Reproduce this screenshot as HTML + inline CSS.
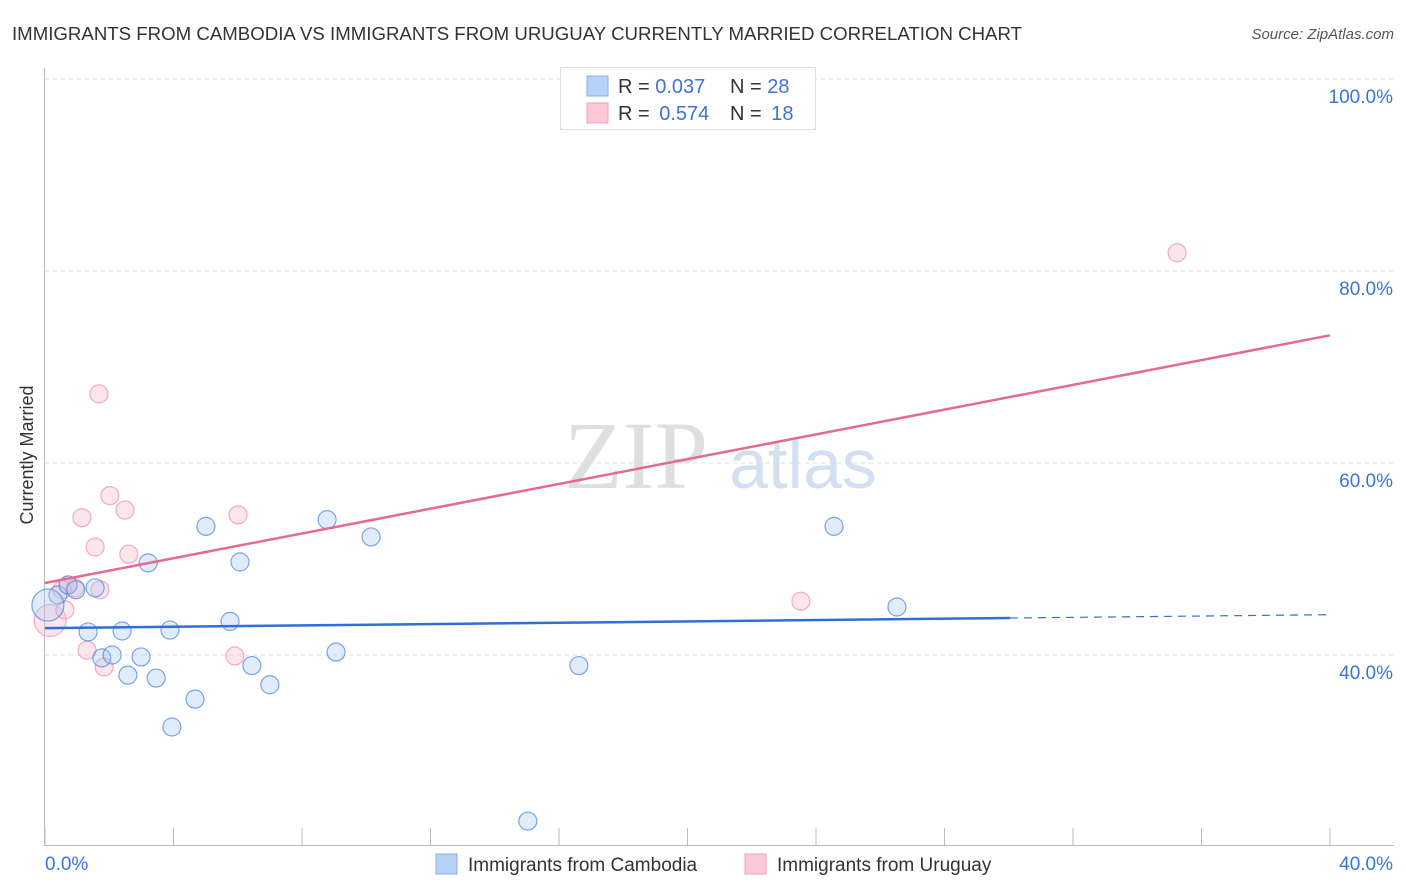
<!DOCTYPE html>
<html><head><meta charset="utf-8">
<style>
body{margin:0;background:#fff;font-family:"Liberation Sans",sans-serif;}
#wrap{position:relative;width:1406px;height:892px;overflow:hidden;}
</style></head>
<body>
<div id="wrap">
<svg id="svg" width="1406" height="892" xmlns="http://www.w3.org/2000/svg">
<text x="12" y="40" font-size="18" fill="#333" textLength="1010" lengthAdjust="spacingAndGlyphs">IMMIGRANTS FROM CAMBODIA VS IMMIGRANTS FROM URUGUAY CURRENTLY MARRIED CORRELATION CHART</text>
<text x="1394" y="39" font-size="15" fill="#555" text-anchor="end" font-style="italic">Source: ZipAtlas.com</text>
<text transform="translate(33,455) rotate(-90)" font-size="18" fill="#333" text-anchor="middle">Currently Married</text>
<g>
<text x="636" y="488" font-size="96" fill="#d8d8d8" font-family="Liberation Serif,serif" text-anchor="middle" opacity="0.8">ZIP</text>
<text x="803" y="488" font-size="70" fill="#c9d9f0" text-anchor="middle" opacity="0.8">atlas</text>
</g>
<g id="grid"></g><g id="axes"></g><g id="marks"></g>
<g>
<rect x="560.5" y="67.5" width="255" height="62" fill="#fff" stroke="#ddd"/>
<rect x="587" y="76" width="21" height="20" fill="#b8d2f7" stroke="#8ab0e8"/>
<rect x="587" y="103" width="21" height="20" fill="#fac8d6" stroke="#f0a0b8"/>
<text x="618" y="93" font-size="20" fill="#333">R = <tspan fill="#3b74d6">0.037</tspan><tspan x="730">N = </tspan><tspan fill="#3b74d6">28</tspan></text>
<text x="618" y="120" font-size="20" fill="#333">R = <tspan fill="#3b74d6" dx="4">0.574</tspan><tspan x="730">N = </tspan><tspan fill="#3b74d6" dx="4">18</tspan></text>
</g>
<g>
<rect x="436" y="854" width="21" height="20" fill="#b8d2f7" stroke="#8ab0e8"/>
<text x="468" y="871" font-size="19" fill="#333">Immigrants from Cambodia</text>
<rect x="745" y="854" width="21" height="20" fill="#fac8d6" stroke="#f0a0b8"/>
<text x="777" y="871" font-size="19" fill="#333">Immigrants from Uruguay</text>
</g>
</svg>
</div>
<script>
const blueX=[0.40,0.72,1.56,1.34,2.40,3.89,1.77,2.09,2.99,2.58,3.46,4.67,3.95,5.01,6.07,5.76,6.44,7.00,3.21,8.78,9.06,10.15,15.03,16.62,24.56,26.52,0.09,0.96];
const blueY=[46.25,47.3,47.0,42.4,42.5,42.6,39.7,40.0,39.8,37.9,37.6,35.4,32.5,53.4,49.7,43.5,38.9,36.9,49.6,54.1,40.3,52.3,22.7,38.9,53.4,45.0,45.2,46.8];
const blueR=[9,9,9,9,9,9,9,9,9,9,9,9,9,9,9,9,9,9,9,9,9,9,9,9,9,9,16,9];
const pinkX=[0.16,0.62,1.68,1.15,2.02,2.49,1.56,2.61,6.01,1.31,1.84,5.91,23.53,35.24,0.72,1.71,0.93,0.53];
const pinkY=[43.6,44.7,67.2,54.3,56.6,55.1,51.25,50.5,54.6,40.5,38.75,39.9,45.6,81.9,47.3,46.8,47.0,46.8];
const pinkR=[16,9,9,9,9,9,9,9,9,9,9,9,9,9,9,9,9,9];
const yTicks=[40,60,80,100];
const yTickLabels=["40.0%","60.0%","80.0%","100.0%"];
const blueTrend=[42.8,44.2];
const pinkTrend=[47.5,73.3];
const X=v=>45+v/40*1285;
const Y=v=>655-(v-40)*9.6;
const NS="http://www.w3.org/2000/svg";
function mk(t,a,p){const e=document.createElementNS(NS,t);for(const k in a)e.setAttribute(k,a[k]);p.appendChild(e);return e;}
const grid=document.getElementById('grid'),axes=document.getElementById('axes'),marks=document.getElementById('marks');
yTicks.forEach((t,i)=>{
 const l=mk('line',{x1:45,x2:1394,y1:Y(t),y2:Y(t),stroke:'#ddd','stroke-dasharray':'4,4'},grid);
 
 
 const tx=mk('text',{x:1393,y:Y(t)+24,'font-size':19,fill:'#3b74d6','text-anchor':'end'},axes);
 tx.textContent=yTickLabels[i];
 
 
});
const ax=mk('line',{x1:44.5,x2:44.5,y1:68,y2:845,stroke:'#bbb'},axes);


const bx=mk('line',{x1:44,x2:1394,y1:845.5,y2:845.5,stroke:'#bbb'},axes);


for(let i=0;i<=10;i++){const x=X(i*4);const t=mk('line',{x1:x,x2:x,y1:828,y2:845,stroke:'#bbb'},axes);
 
 }
[["0.0%",45,'start'],["40.0%",1393,'end']].forEach(d=>{const t=mk('text',{x:d[1],y:870,'font-size':19,fill:'#3b74d6','text-anchor':d[2]},axes);t.textContent=d[0];
 
 });
pinkX.forEach((v,i)=>{const c=mk('circle',{cx:X(v),cy:Y(pinkY[i]),r:pinkR[i],fill:'rgba(248,180,200,0.35)',stroke:'rgba(234,140,170,0.7)','stroke-width':1.2},marks);
 
 });
blueX.forEach((v,i)=>{const c=mk('circle',{cx:X(v),cy:Y(blueY[i]),r:blueR[i],fill:'rgba(170,200,240,0.35)',stroke:'rgba(80,135,220,0.75)','stroke-width':1.2},marks);
 
 });
const bEnd=30.04,bMid=blueTrend[0]+(blueTrend[1]-blueTrend[0])*bEnd/40;
let l=mk('line',{x1:X(0),y1:Y(blueTrend[0]),x2:X(bEnd),y2:Y(bMid),stroke:'#2f6fd6','stroke-width':2.5},marks);


l=mk('line',{x1:X(bEnd),y1:Y(bMid),x2:X(40),y2:Y(blueTrend[1]),stroke:'#2f6fd6','stroke-width':1.2,'stroke-dasharray':'8,6'},marks);


l=mk('line',{x1:X(0),y1:Y(pinkTrend[0]),x2:X(40),y2:Y(pinkTrend[1]),stroke:'#e46a94','stroke-width':2.5},marks);


</script>
</body></html>
